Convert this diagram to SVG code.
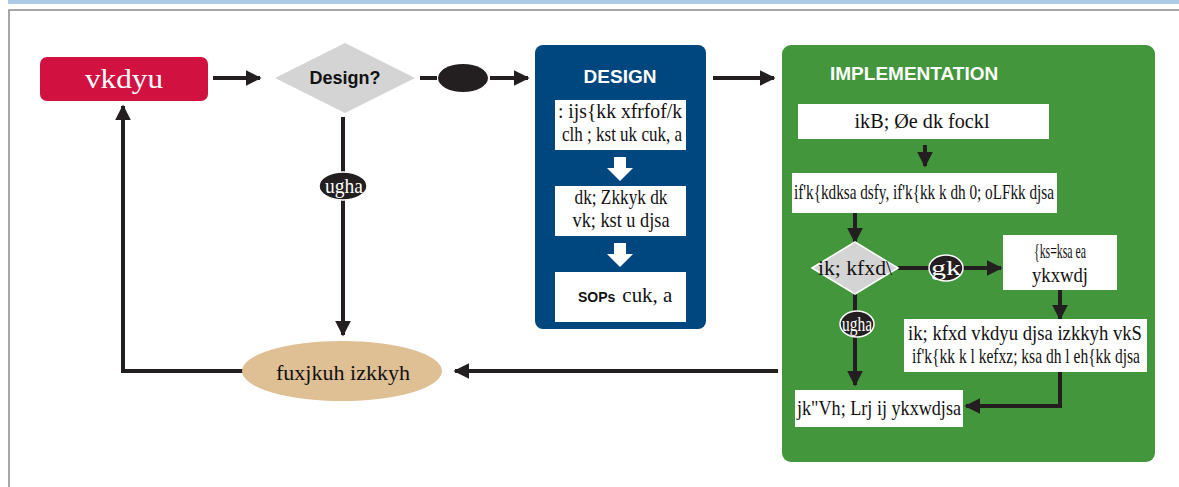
<svg xmlns="http://www.w3.org/2000/svg" width="1179" height="487" viewBox="0 0 1179 487">
<defs>
<style>
.hi{font-family:"Liberation Serif",serif;fill:#111;font-size:21px}
.hw{font-family:"Liberation Serif",serif;fill:#fff}
.en{font-family:"Liberation Sans",Arial,sans-serif;font-weight:bold}
.ln{stroke:#231f20;stroke-width:4;fill:none}
.wb{fill:#fff}
</style>
<marker id="ah" viewBox="0 0 10 10" refX="9" refY="5" markerWidth="4" markerHeight="4" orient="auto" markerUnits="strokeWidth">
<path d="M0,0 L10,5 L0,10 z" fill="#231f20"/>
</marker>
</defs>
<rect x="0" y="0" width="1179" height="487" fill="#fff"/>
<rect x="8" y="0" width="1171" height="4" fill="#aecae9"/>
<path d="M9,487 V10 H1179" fill="none" stroke="#8a8a8a" stroke-width="1.5"/>

<g id="design">
<rect x="535" y="45" width="171" height="284" rx="8" fill="#00467f"/>
<text class="en" x="620" y="83" font-size="19" fill="#fff" text-anchor="middle">DESIGN</text>
<rect class="wb" x="555" y="100" width="131" height="50"/>
<text class="hi" x="620" y="118" text-anchor="middle" textLength="124" lengthAdjust="spacingAndGlyphs">: ijs{kk xfrfof/k</text>
<text class="hi" x="622" y="141" text-anchor="middle" textLength="120" lengthAdjust="spacingAndGlyphs">clh ; kst uk cuk, a</text>
<path d="M614,157 H626 V168 H633 L620,181 L607,168 H614 z" fill="#fff"/>
<rect class="wb" x="555" y="186" width="131" height="50"/>
<text class="hi" x="621" y="204" text-anchor="middle" textLength="93" lengthAdjust="spacingAndGlyphs">dk; Zkkyk dk</text>
<text class="hi" x="621" y="227" text-anchor="middle" textLength="97" lengthAdjust="spacingAndGlyphs">vk; kst u djsa</text>
<path d="M614,243 H626 V254 H633 L620,267 L607,254 H614 z" fill="#fff"/>
<rect class="wb" x="555" y="272" width="131" height="50"/>
<text x="578" y="302" class="hi"><tspan class="en" font-size="14">SOPs</tspan><tspan dx="7" textLength="50" lengthAdjust="spacingAndGlyphs">cuk, a</tspan></text>
</g>

<g id="implementation">
<rect x="782" y="45" width="373" height="417" rx="9" fill="#43963b"/>
<text class="en" x="830" y="80" font-size="19" fill="#fff">IMPLEMENTATION</text>
</g>

<g id="connectors">
<line class="ln" x1="213" y1="78" x2="260" y2="78" marker-end="url(#ah)"/>
<line class="ln" x1="420" y1="78" x2="437" y2="78"/>
<line class="ln" x1="490" y1="78" x2="528" y2="78" marker-end="url(#ah)"/>
<line class="ln" x1="713" y1="78" x2="774" y2="78" marker-end="url(#ah)"/>
<line class="ln" x1="343" y1="117" x2="343" y2="335" marker-end="url(#ah)"/>
<line class="ln" x1="778" y1="371" x2="455" y2="371" marker-end="url(#ah)"/>
<polyline class="ln" points="244,371 123,371 123,106" marker-end="url(#ah)"/>
<line class="ln" x1="925" y1="145" x2="925" y2="166" marker-end="url(#ah)"/>
<line class="ln" x1="855" y1="213" x2="855" y2="242" marker-end="url(#ah)"/>
<line class="ln" x1="898" y1="268" x2="930" y2="268"/>
<line class="ln" x1="962" y1="268" x2="1001" y2="268" marker-end="url(#ah)"/>
<line class="ln" x1="1060" y1="290" x2="1060" y2="319" marker-end="url(#ah)"/>
<line class="ln" x1="855" y1="294" x2="855" y2="385" marker-end="url(#ah)"/>
<polyline class="ln" points="1060,372 1060,406 966,406" marker-end="url(#ah)"/>
</g>

<g id="start">
<rect x="40" y="57" width="168" height="44" rx="7" fill="#d11241"/>
<text class="hw" x="124" y="88" font-size="28" text-anchor="middle" textLength="78" lengthAdjust="spacingAndGlyphs">vkdyu</text>
</g>

<g id="design-q">
<polygon points="275,78 345,43 415,78 345,113" fill="#d4d4d4"/>
<text class="en" x="345" y="84" font-size="18" text-anchor="middle" fill="#111">Design?</text>
</g>

<g id="yes-dot">
<ellipse cx="463" cy="78" rx="25" ry="14" fill="#231f20"/>
</g>

<g id="no-1">
<ellipse cx="343" cy="186" rx="24" ry="14" fill="#231f20" stroke="#fff" stroke-width="1.5"/>
<text class="hw" x="344" y="193" font-size="21" text-anchor="middle" textLength="38" lengthAdjust="spacingAndGlyphs">ugha</text>
</g>

<g id="monitor">
<ellipse cx="342" cy="371" rx="100" ry="30" fill="#dfbf94"/>
<text class="hi" x="343" y="380" font-size="24" text-anchor="middle" textLength="134" lengthAdjust="spacingAndGlyphs">fuxjkuh izkkyh</text>
</g>

<g id="curriculum">
<rect class="wb" x="798" y="104" width="251" height="35"/>
<text class="hi" x="922" y="128" text-anchor="middle" textLength="135" lengthAdjust="spacingAndGlyphs">ikB; Øe dk fockl</text>
</g>

<g id="training">
<rect class="wb" x="792" y="173" width="265" height="40"/>
<text class="hi" x="924" y="199" text-anchor="middle" textLength="260" lengthAdjust="spacingAndGlyphs">if'k{kdksa dsfy, if'k{kk k dh 0; oLFkk djsa</text>
</g>

<g id="pilot-q">
<polygon points="812,268 855,242 898,268 855,294" fill="#d4d4d4" stroke="#fff" stroke-width="1.5"/>
<text class="hi" x="855" y="275" text-anchor="middle" textLength="74" lengthAdjust="spacingAndGlyphs">ik; kfxd\</text>
</g>

<g id="yes-2">
<ellipse cx="946" cy="268" rx="17" ry="13" fill="#231f20" stroke="#fff" stroke-width="1.5"/>
<text class="hw" x="946" y="275" font-size="20" text-anchor="middle" textLength="30" lengthAdjust="spacingAndGlyphs">gk</text>
</g>

<g id="field">
<rect class="wb" x="1003" y="235" width="114" height="55"/>
<text class="hi" x="1060" y="258" text-anchor="middle" textLength="52" lengthAdjust="spacingAndGlyphs">{ks=ksa ea</text>
<text class="hi" x="1060" y="282" text-anchor="middle" textLength="56" lengthAdjust="spacingAndGlyphs">ykxwdj</text>
</g>

<g id="evaluate">
<rect class="wb" x="904" y="319" width="243" height="53"/>
<text class="hi" x="1025" y="340" text-anchor="middle" textLength="234" lengthAdjust="spacingAndGlyphs">ik; kfxd vkdyu djsa izkkyh vkS</text>
<text class="hi" x="1026" y="363" font-size="20" text-anchor="middle" textLength="228" lengthAdjust="spacingAndGlyphs">if'k{kk k l kefxz; ksa dh l eh{kk djsa</text>
</g>

<g id="no-2">
<ellipse cx="857" cy="324" rx="17" ry="13" fill="#231f20" stroke="#fff" stroke-width="1.5"/>
<text class="hw" x="857" y="331" font-size="20" text-anchor="middle" textLength="30" lengthAdjust="spacingAndGlyphs">ugha</text>
</g>

<g id="national">
<rect class="wb" x="795" y="390" width="168" height="37"/>
<text class="hi" x="879" y="415" text-anchor="middle" textLength="164" lengthAdjust="spacingAndGlyphs">jk"Vh; Lrj ij ykxwdjsa</text>
</g>
</svg>
